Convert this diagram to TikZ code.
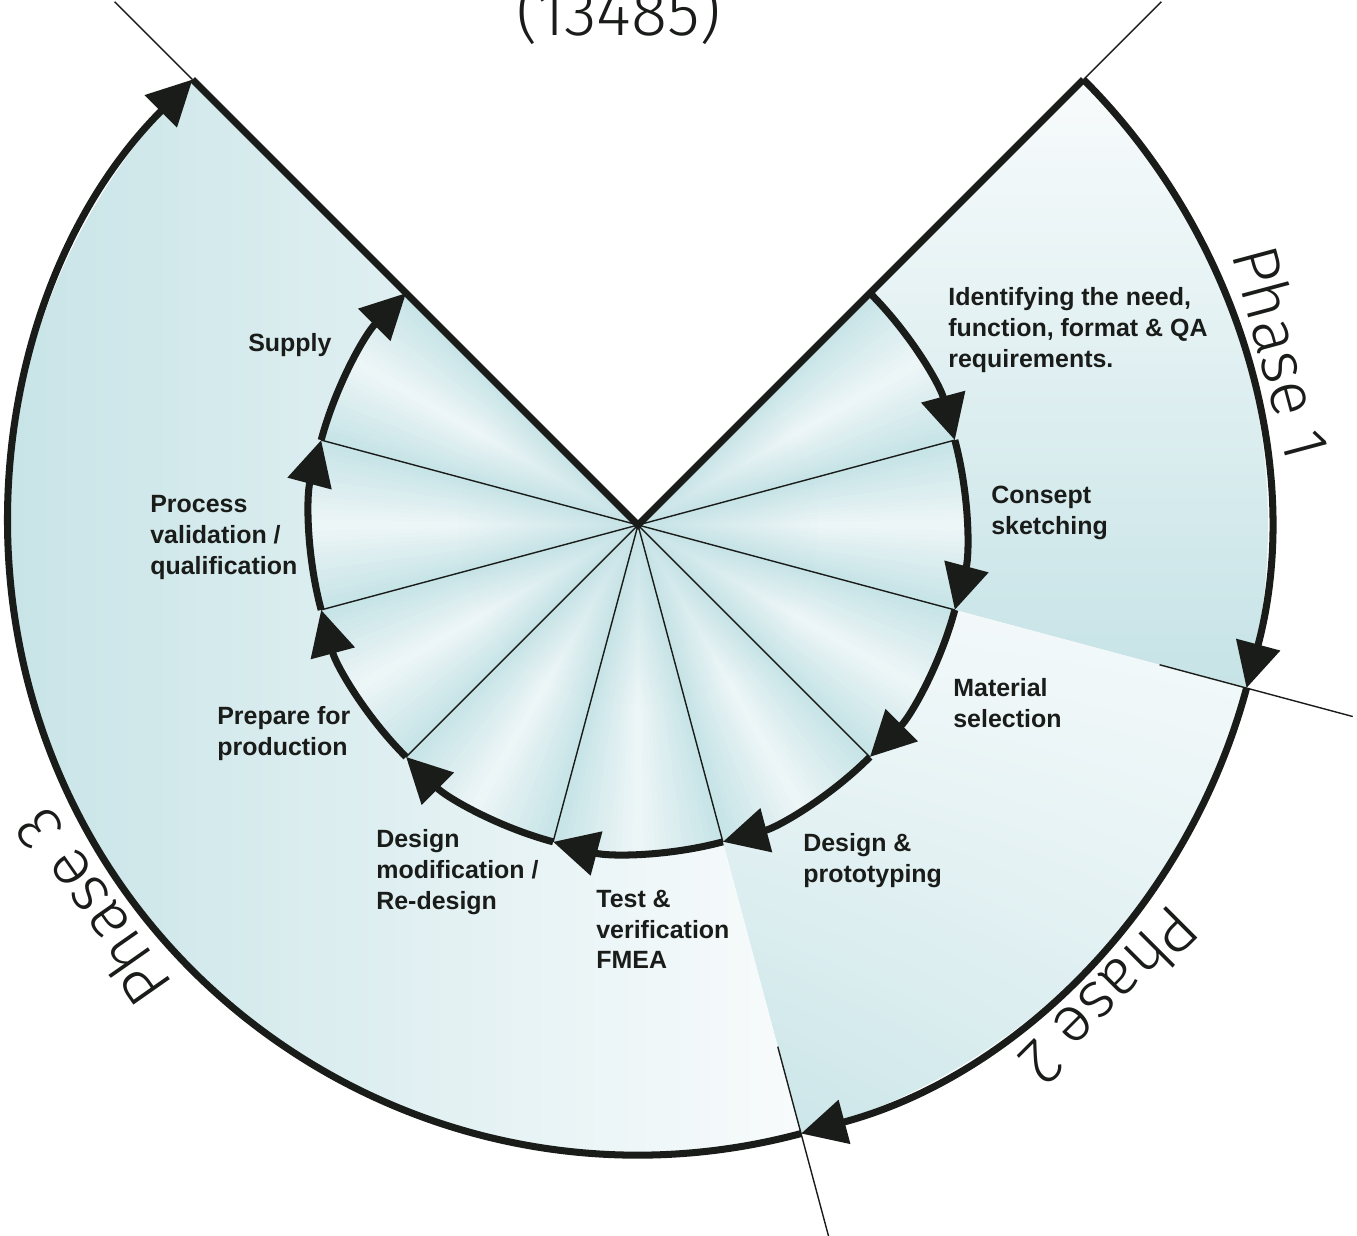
\documentclass[tikz,border=0pt]{standalone}
\usepackage{fontspec}
\setmainfont{Liberation Sans}
\newfontfamily\phasefont{Fira Sans Light}
\usepackage{tikz}
\usepackage{xcolor}
\usetikzlibrary{arrows.meta, shadings, fadings}

\definecolor{phaseteal}{RGB}{198,227,230}
\definecolor{phasemid}{RGB}{222,239,241}
\definecolor{phasewhite}{RGB}{248,251,252}
\definecolor{inkblack}{RGB}{26,28,26}

\newcommand{\innerR}{6.56}
\newcommand{\outerR}{12.6}

\tikzfading[name=centrefade, inner color=transparent!0, outer color=transparent!100]

\begin{document}
\begin{tikzpicture}[
    steparrow/.style={draw=inkblack, line width=4pt, -{Triangle[length=0.9cm, width=0.88cm]}},
    divider/.style={draw=inkblack, line width=0.8pt},
    spoke/.style={draw=inkblack, line width=4pt},
    steplabel/.style={anchor=west, align=left, inner sep=0pt, text=inkblack, font=\fontsize{14.2}{17.5}\selectfont\bfseries},
    phaselabel/.style={anchor=south, inner sep=0pt, text=inkblack, font=\fontsize{37}{40}\selectfont\phasefont}
]
    \useasboundingbox (-12.76,-14.2) rectangle (14.38,10.5);

    % Centre and corner points
    \coordinate (o) at (0,0);
    \foreach \k in {0,...,9}
        \coordinate (in\k) at ({45-30*\k}:\innerR);
    \coordinate (p1) at (45:\outerR);
    \coordinate (p2) at (-15:\outerR);
    \coordinate (p3) at (-75:\outerR);
    \coordinate (p4) at (135:\outerR);

    % Phase areas
    \shade[top color=phasewhite, bottom color=phaseteal] (o) -- (p1) arc[start angle=45, end angle=-15, radius=\outerR] -- cycle;
    \shade[upper left=phasewhite, upper right=phasewhite, lower left=phaseteal, lower right=phasemid] (o) -- (p2) arc[start angle=-15, end angle=-75, radius=\outerR] -- cycle;
    \shade[left color=phaseteal, right color=phasewhite] (o) -- (p3) arc[start angle=-75, end angle=-225, radius=\outerR] -- cycle;

    % Step sectors
    \foreach \k in {0,...,8}{
        \foreach \j in {0,...,29}{
            \pgfmathsetmacro{\angA}{45-30*\k-\j}
            \pgfmathsetmacro{\angB}{\angA-1.3}
            \pgfmathsetmacro{\pct}{20+80*abs(\j+0.5-15)/15}
            \fill[phaseteal!\pct!phasewhite] (o) -- (\angA:\innerR) arc[start angle=\angA, end angle=\angB, radius=\innerR] -- cycle;
        }
    }
    \begin{scope}
        \clip (o) -- (in0) arc[start angle=45, end angle=-225, radius=\innerR] -- cycle;
        \fill[phaseteal, path fading=centrefade] (o) circle (3.6);
    \end{scope}

    % Dividers
    \foreach \k in {1,...,8}
        \draw[divider] (o) -- (in\k);
    \coordinate (e1) at (45:14.8);
    \coordinate (e4) at (135:14.8);
    \coordinate (s2) at (-15:10.8);
    \coordinate (e2) at (-15:14.8);
    \coordinate (s3) at (-75:10.8);
    \coordinate (e3) at (-75:14.8);
    \draw[divider] (p1) -- (e1);
    \draw[divider] (p4) -- (e4);
    \draw[divider] (s2) -- (e2);
    \draw[divider] (s3) -- (e3);
    \draw[spoke] (p4) -- (o) -- (p1);

    % Step arrows
    \foreach \k in {0,...,8}{
        \pgfmathsetmacro{\angA}{45-30*\k}
        \draw[steparrow] (in\k) arc[start angle=\angA, end angle=\angA-30, radius=\innerR];
    }

    % Phase arrows
    \draw[steparrow] (p1) arc[start angle=45, end angle=-15, radius=\outerR];
    \draw[steparrow] (p2) arc[start angle=-15, end angle=-75, radius=\outerR];
    \draw[steparrow] (p3) arc[start angle=-75, end angle=-225, radius=\outerR];

    % Labels
    \node[font=\fontsize{38}{40}\selectfont\phasefont, text=inkblack, anchor=base] (title) at (-0.38,9.78) {(13485)};
    \node[phaselabel, rotate=-75] (ph1) at (15:12.85) {Phase 1};
    \node[phaselabel, rotate=-135] (ph2) at (-45:12.85) {Phase 2};
    \node[phaselabel, rotate=125] (ph3) at (-145:12.85) {Phase 3};

    \node[steplabel] (need) at (6.20,3.90) {Identifying the need,\\function, format \& QA\\requirements.};
    \node[steplabel] (sketch) at (7.06,0.24) {Consept\\sketching};
    \node[steplabel] (material) at (6.30,-3.56) {Material\\selection};
    \node[steplabel] (proto) at (3.30,-6.71) {Design \&\\prototyping};
    \node[steplabel] (test) at (-0.84,-8.09) {Test \&\\verification\\FMEA};
    \node[steplabel] (redesign) at (-5.24,-6.94) {Design\\modification /\\Re-design};
    \node[steplabel] (prep) at (-8.42,-4.17) {Prepare for\\production};
    \node[steplabel] (valid) at (-9.76,-0.25) {Process\\validation /\\qualification};
    \node[steplabel] (supply) at (-7.80,3.60) {Supply};
\end{tikzpicture}
\end{document}
